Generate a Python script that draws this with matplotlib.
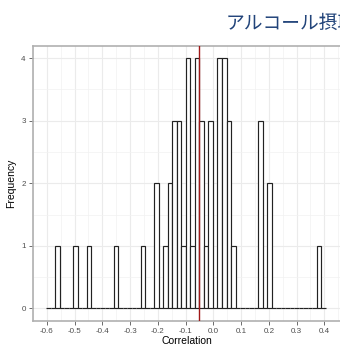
import numpy as np
import matplotlib
matplotlib.use("Agg")
from matplotlib import pyplot as plt
from matplotlib.ticker import MultipleLocator

# histogram bins (ggplot style, equal width)
bin_start = -0.603
bin_width = 0.01626
counts = [0, 0, 1, 0, 0, 0, 1, 0, 0, 1,
          0, 0, 0, 0, 0, 1, 0, 0, 0, 0,
          0, 1, 0, 0, 2, 0, 1, 2, 3, 3,
          1, 4, 1, 4, 3, 1, 3, 0, 4, 4,
          3, 1, 0, 0, 0, 0, 0, 3, 0, 2,
          0, 0, 0, 0, 0, 0, 0, 0, 0, 0,
          1, 0]
mean_r = -0.053

x_ticks = [-0.6, -0.5, -0.4, -0.3, -0.2, -0.1, 0.0, 0.1, 0.2, 0.3, 0.4]
y_ticks = [0, 1, 2, 3, 4]
title_text = "アルコール摂取"

edges = bin_start + bin_width * np.arange(len(counts) + 1)

plt.rcParams['font.family'] = ['Liberation Sans', 'DejaVu Sans']

fig = plt.figure(figsize=(3.4, 3.46), dpi=100)
fig.patch.set_facecolor('white')

W, H = 340.0, 346.0
left_px, top_px, bot_px = 32.7, 45.7, 320.8
xmin, xmax = -0.651, 0.46
px_per_unit = 277.5
ax = fig.add_axes([left_px / W, (H - bot_px) / H,
                   px_per_unit * (xmax - xmin) / W, (bot_px - top_px) / H])

ax.bar(edges[:-1], counts, width=bin_width, align='edge',
       facecolor='white', edgecolor='#222222', linewidth=0.85, zorder=3)
ax.axvline(mean_r, color='#a01818', linewidth=1.0, zorder=4)

ax.set_xlim(xmin, xmax)
ax.set_ylim(-0.2, 4.2)
ax.set_xticks(x_ticks)
ax.set_xticklabels(["%.1f" % v for v in x_ticks])
ax.set_yticks(y_ticks)
ax.xaxis.set_minor_locator(MultipleLocator(0.05))
ax.yaxis.set_minor_locator(MultipleLocator(0.5))

ax.grid(which='major', color='#ebebeb', linewidth=0.8, zorder=0)
ax.grid(which='minor', color='#f2f2f2', linewidth=0.5, zorder=0)
ax.set_axisbelow(True)

for side in ['left', 'top', 'bottom']:
    ax.spines[side].set_color('#b0b0b0')
    ax.spines[side].set_linewidth(1.2)
ax.spines['right'].set_visible(False)

ax.tick_params(which='major', length=3, width=0.6, color='#555555',
               labelsize=5.8, labelcolor='#4d4d4d', pad=2)
ax.tick_params(which='minor', length=0)

ax.set_xlabel("Correlation", fontsize=7.5, labelpad=1)
ax.set_ylabel("Frequency", fontsize=7.5, labelpad=4)

fig.text(226 / W, 1 - 23 / H, title_text, fontsize=13.5, color='#22447a',
         style='italic', va='center', ha='left',
         family=['Noto Sans CJK JP', 'DejaVu Sans'])

fig.savefig("out.png", dpi=100)
